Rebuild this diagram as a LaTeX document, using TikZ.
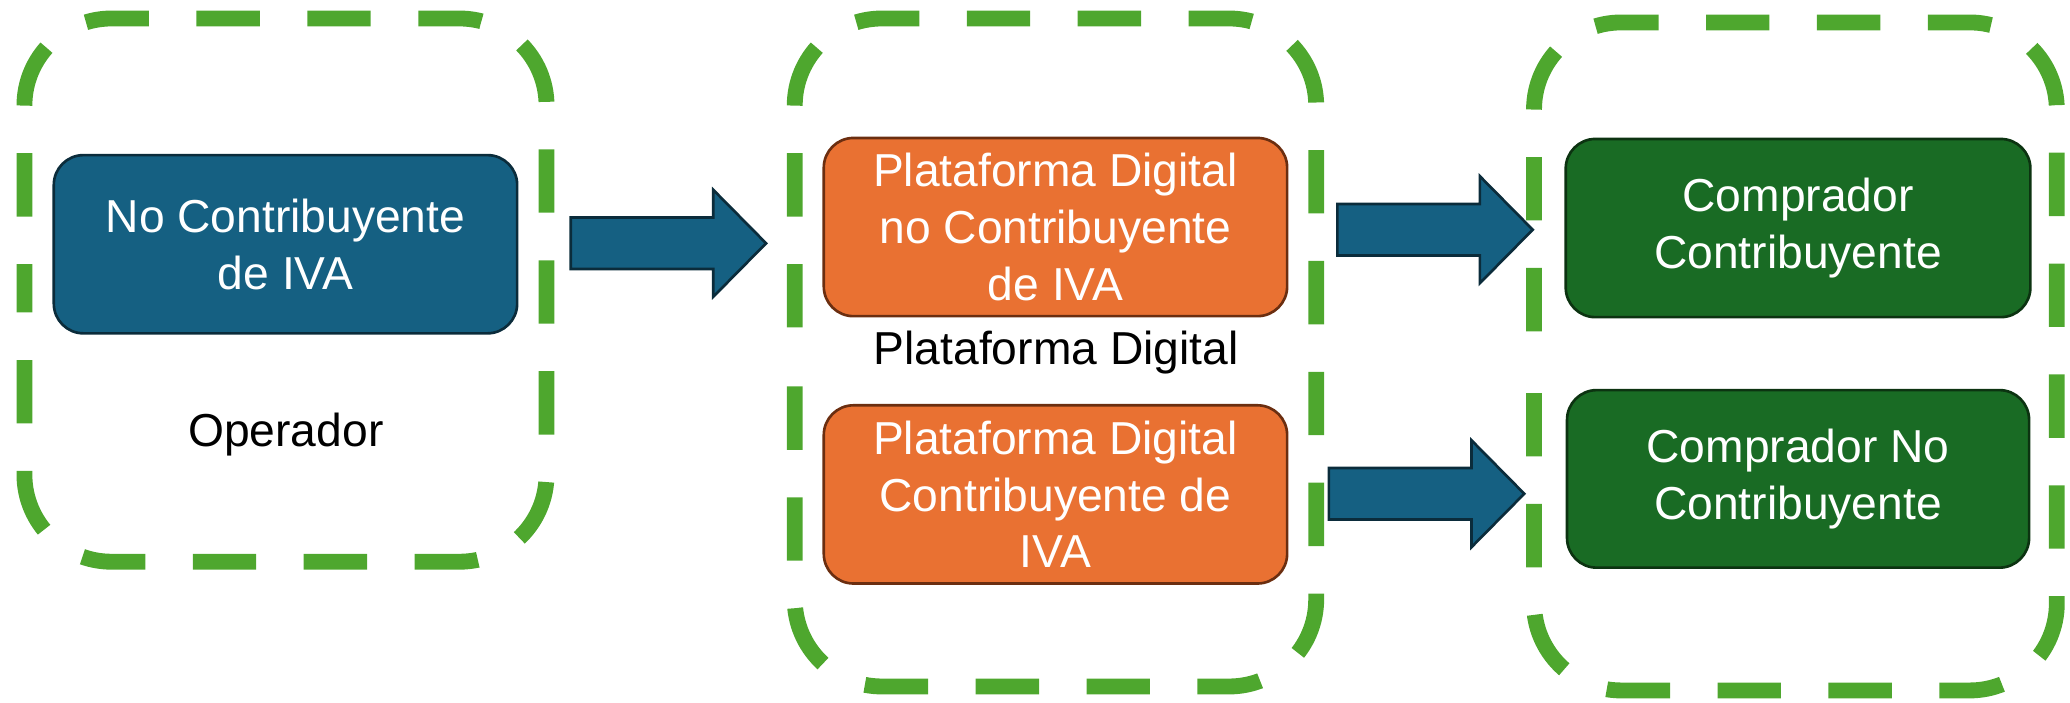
\documentclass[tikz,border=0pt]{standalone}
\usepackage{fontspec}
\setmainfont{Liberation Sans}
\usepackage{tikz}
\usetikzlibrary{positioning,calc}

\definecolor{azul}{HTML}{156082}
\definecolor{azulborde}{HTML}{0B2C3B}
\definecolor{naranja}{HTML}{E97132}
\definecolor{naranjaborde}{HTML}{6B2E10}
\definecolor{verde}{HTML}{196B24}
\definecolor{verdeborde}{HTML}{0C3311}
\definecolor{verdegrupo}{HTML}{4EA72E}

\tikzset{
  flecha/.pic={
    \draw[fill=azul,draw=azulborde,line width=2pt,line join=miter]
      (0,-19.5) -- (108,-19.5) -- (108,-40.5) -- (148,0) -- (108,40.5) -- (108,19.5) -- (0,19.5) -- cycle;
  }
}

\begin{document}
\begin{tikzpicture}[x=1pt,y=-1pt,
  every node/.style={font=\fontsize{35}{43}\selectfont},
  grupo/.style={draw=verdegrupo,line width=12pt,dash pattern=on 48pt off 36pt,rounded corners=66pt},
  caja/.style={rounded corners=22.5pt,line width=2pt,minimum width=351pt,minimum height=135pt,align=center,text=white,inner sep=0pt}]
\useasboundingbox (0,0) rectangle (1568,532);
% grupos
\draw[grupo,dash phase=28.25pt] (18.5,219.75) -- (18.5,14) -- (414,14) -- (414,425.5) -- (18.5,425.5) -- (18.5,219.75);
\draw[grupo,dash phase=65pt] (602,267) -- (602,14) -- (997,14) -- (997,520) -- (602,520) -- (602,267);
\draw[grupo,dash phase=65pt] (1162,270) -- (1162,17) -- (1558,17) -- (1558,523) -- (1162,523) -- (1162,270);
% cajas
\node[caja,fill=azul,draw=azulborde] (operador) at (216.25,185) {No Contribuyente\\de IVA};
\node (lblOperador) at (216.5,329) {Operador};
\node[caja,fill=naranja,draw=naranjaborde] (plataformaNo) at (799.5,172) {Plataforma Digital\\no Contribuyente\\de IVA};
\node (lblPlataforma) at (800,267) {Plataforma Digital};
\node[caja,fill=naranja,draw=naranjaborde] (plataformaSi) at (799.5,374.5) {Plataforma Digital\\Contribuyente de\\IVA};
\node[caja,fill=verde,draw=verdeborde,minimum width=352pt] (compradorSi) at (1362,172.75) {Comprador\\Contribuyente};
\node[caja,fill=verde,draw=verdeborde,minimum width=350pt,minimum height=134.5pt] (compradorNo) at (1362,362.75) {Comprador No\\Contribuyente};
% flechas
\pic at (432.3,184.3) {flecha};
\pic at (1013,174) {flecha};
\pic at (1006.6,374) {flecha};
\end{tikzpicture}
\end{document}
